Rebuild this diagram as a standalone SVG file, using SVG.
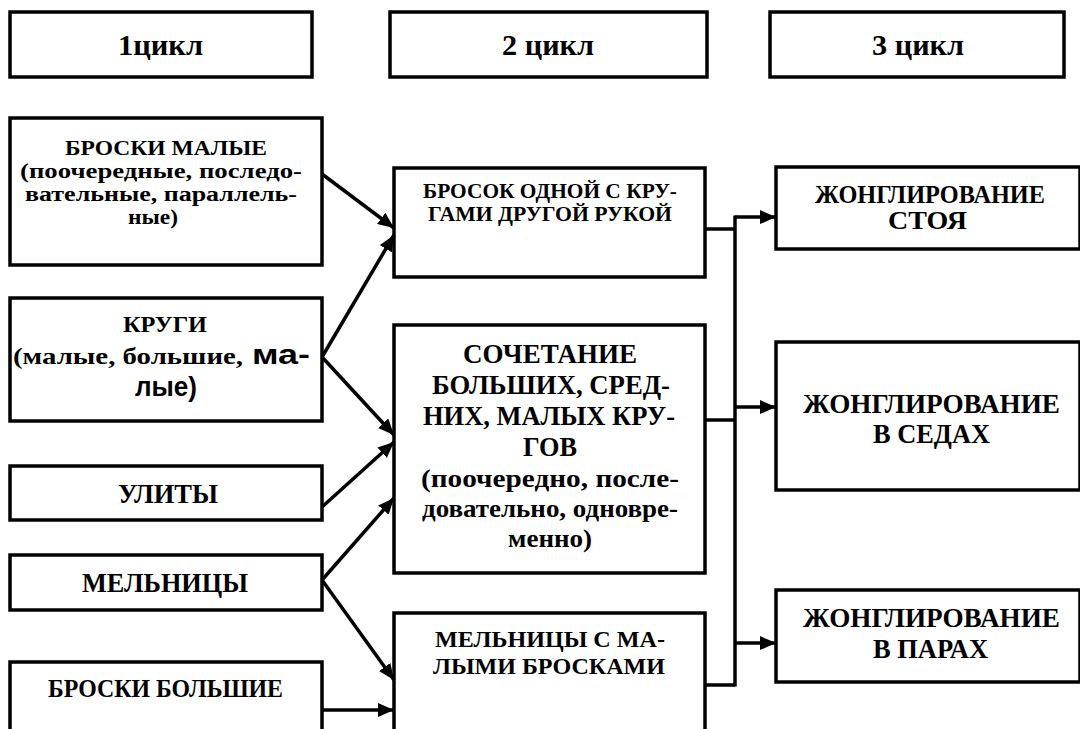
<svg xmlns="http://www.w3.org/2000/svg" width="1080" height="729" viewBox="0 0 1080 729">
<defs>
<style>
.box{fill:#fff;stroke:#000;stroke-width:3.5}
.t{font-family:"Liberation Serif","Times New Roman",serif;font-weight:bold;fill:#000}
.s{font-family:"Liberation Sans",Arial,sans-serif;font-weight:bold;fill:#000}
.c{fill:none;stroke:#000;stroke-width:3.5}
</style>
<marker id="ah" markerUnits="userSpaceOnUse" markerWidth="17" markerHeight="14" refX="16" refY="7" orient="auto">
<path d="M0,0 L16,7 L0,14 z" fill="#000"/>
</marker>
</defs>
<rect width="1080" height="729" fill="#fff"/>
<g id="h1"><rect class="box" x="10" y="12" width="302" height="65"/><text class="t" x="118" y="55" font-size="30" textLength="85" lengthAdjust="spacingAndGlyphs">1цикл</text></g>
<g id="h2"><rect class="box" x="390" y="12" width="317" height="65"/><text class="t" x="502" y="55" font-size="30" textLength="92" lengthAdjust="spacingAndGlyphs">2 цикл</text></g>
<g id="h3"><rect class="box" x="770" y="12" width="294" height="65"/><text class="t" x="872" y="55" font-size="30" textLength="92" lengthAdjust="spacingAndGlyphs">3 цикл</text></g>

<g id="n_broski_malye"><rect class="box" x="10" y="118" width="312" height="147"/>
<text class="t" x="65" y="155" font-size="20.5" textLength="202" lengthAdjust="spacingAndGlyphs">БРОСКИ МАЛЫЕ</text>
<text class="t" x="20" y="178" font-size="20" textLength="282" lengthAdjust="spacingAndGlyphs">(поочередные, последо-</text>
<text class="t" x="25" y="201" font-size="20" textLength="272" lengthAdjust="spacingAndGlyphs">вательные, параллель-</text>
<text class="t" x="128" y="224" font-size="20" textLength="50" lengthAdjust="spacingAndGlyphs">ные)</text></g>
<g id="n_krugi"><rect class="box" x="10" y="298" width="312" height="123"/>
<text class="t" x="123" y="332" font-size="24" textLength="84" lengthAdjust="spacingAndGlyphs">КРУГИ</text>
<text class="t" x="13" y="364" font-size="24" textLength="230" lengthAdjust="spacingAndGlyphs">(малые, большие,</text>
<text class="s" x="252" y="364" font-size="27" textLength="58" lengthAdjust="spacingAndGlyphs">ма-</text>
<text class="s" x="135" y="396" font-size="27" textLength="62" lengthAdjust="spacingAndGlyphs">лые)</text></g>
<g id="n_ulity"><rect class="box" x="10" y="466" width="312" height="54"/><text class="t" x="118" y="503" font-size="28" textLength="100" lengthAdjust="spacingAndGlyphs">УЛИТЫ</text></g>
<g id="n_melnicy"><rect class="box" x="10" y="555" width="312" height="55"/><text class="t" x="82" y="592" font-size="28" textLength="166" lengthAdjust="spacingAndGlyphs">МЕЛЬНИЦЫ</text></g>
<g id="n_broski_bolshie"><rect class="box" x="10" y="662" width="312" height="80"/><text class="t" x="48" y="697" font-size="25" textLength="235" lengthAdjust="spacingAndGlyphs">БРОСКИ БОЛЬШИЕ</text></g>

<g id="n_brosok"><rect class="box" x="394" y="168" width="311" height="109"/>
<text class="t" x="423" y="198" font-size="22" textLength="254" lengthAdjust="spacingAndGlyphs">БРОСОК ОДНОЙ С КРУ-</text>
<text class="t" x="428" y="221" font-size="22" textLength="244" lengthAdjust="spacingAndGlyphs">ГАМИ ДРУГОЙ РУКОЙ</text></g>
<g id="n_sochetanie"><rect class="box" x="394" y="325" width="311" height="248"/>
<text class="t" x="463" y="363" font-size="26.5" textLength="174" lengthAdjust="spacingAndGlyphs">СОЧЕТАНИЕ</text>
<text class="t" x="432" y="394" font-size="26.5" textLength="238" lengthAdjust="spacingAndGlyphs">БОЛЬШИХ, СРЕД-</text>
<text class="t" x="423" y="425" font-size="26.5" textLength="252" lengthAdjust="spacingAndGlyphs">НИХ, МАЛЫХ КРУ-</text>
<text class="t" x="523" y="456" font-size="26.5" textLength="54" lengthAdjust="spacingAndGlyphs">ГОВ</text>
<text class="t" x="421" y="487" font-size="26" textLength="258" lengthAdjust="spacingAndGlyphs">(поочередно, после-</text>
<text class="t" x="422" y="517" font-size="26" textLength="256" lengthAdjust="spacingAndGlyphs">довательно, одновре-</text>
<text class="t" x="508" y="547" font-size="26" textLength="84" lengthAdjust="spacingAndGlyphs">менно)</text></g>
<g id="n_melnicy_s"><rect class="box" x="394" y="613" width="311" height="130"/>
<text class="t" x="435" y="647" font-size="24" textLength="230" lengthAdjust="spacingAndGlyphs">МЕЛЬНИЦЫ С МА-</text>
<text class="t" x="433" y="674" font-size="24" textLength="232" lengthAdjust="spacingAndGlyphs">ЛЫМИ БРОСКАМИ</text></g>

<g id="n_stoya"><rect class="box" x="776" y="167" width="304" height="82"/>
<text class="t" x="815" y="203" font-size="24.5" textLength="230" lengthAdjust="spacingAndGlyphs">ЖОНГЛИРОВАНИЕ</text>
<text class="t" x="888" y="229" font-size="24.5" textLength="79" lengthAdjust="spacingAndGlyphs">СТОЯ</text></g>
<g id="n_sedah"><rect class="box" x="776" y="342" width="304" height="148"/>
<text class="t" x="803" y="413" font-size="28" textLength="257" lengthAdjust="spacingAndGlyphs">ЖОНГЛИРОВАНИЕ</text>
<text class="t" x="873" y="443" font-size="28" textLength="117" lengthAdjust="spacingAndGlyphs">В СЕДАХ</text></g>
<g id="n_parah"><rect class="box" x="776" y="590" width="304" height="92"/>
<text class="t" x="803" y="627" font-size="28" textLength="257" lengthAdjust="spacingAndGlyphs">ЖОНГЛИРОВАНИЕ</text>
<text class="t" x="873" y="658" font-size="28" textLength="115" lengthAdjust="spacingAndGlyphs">В ПАРАХ</text></g>

<g id="connectors">
<line class="c" x1="322" y1="174" x2="394" y2="228" marker-end="url(#ah)"/>
<line class="c" x1="322" y1="357" x2="394" y2="235" marker-end="url(#ah)"/>
<line class="c" x1="322" y1="357" x2="394" y2="435" marker-end="url(#ah)"/>
<line class="c" x1="322" y1="507" x2="394" y2="442" marker-end="url(#ah)"/>
<line class="c" x1="322" y1="580" x2="394" y2="498" marker-end="url(#ah)"/>
<line class="c" x1="322" y1="580" x2="394" y2="680" marker-end="url(#ah)"/>
<line class="c" x1="322" y1="710" x2="394" y2="710" marker-end="url(#ah)"/>
<polyline class="c" points="705,229 735,229"/>
<polyline class="c" points="705,420 735,420"/>
<polyline class="c" points="705,685 735,685"/>
<line class="c" x1="735" y1="215.5" x2="735" y2="686.5"/>
<line class="c" x1="735" y1="217" x2="776" y2="217" marker-end="url(#ah)"/>
<line class="c" x1="735" y1="407" x2="776" y2="407" marker-end="url(#ah)"/>
<line class="c" x1="735" y1="643" x2="776" y2="643" marker-end="url(#ah)"/>
</g>
</svg>
